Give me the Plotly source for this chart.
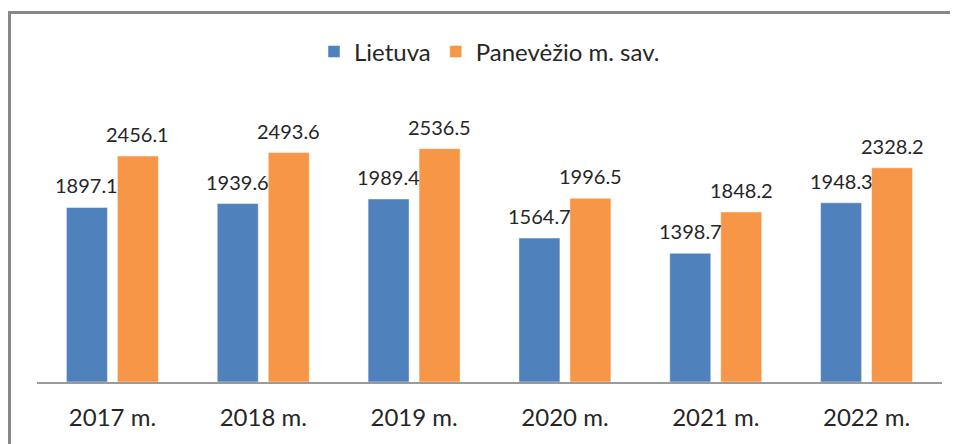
import plotly.graph_objects as go

categories = ["2017 m.", "2018 m.", "2019 m.", "2020 m.", "2021 m.", "2022 m."]
lietuva = [1897.1, 1939.6, 1989.4, 1564.7, 1398.7, 1948.3]
panevezys = [2456.1, 2493.6, 2536.5, 1996.5, 1848.2, 2328.2]
series_names = ["Lietuva", "Panevėžio m. sav."]

BLUE = "#4F81BD"
ORANGE = "#F79646"
TEXT = "#262626"
FONT = "Lato"
BORDER = "#878787"

fig = go.Figure()
fig.add_trace(go.Bar(x=categories, y=lietuva, name=series_names[0],
                     marker=dict(color=BLUE, line=dict(color="rgba(255,255,255,0.45)", width=1))))
fig.add_trace(go.Bar(x=categories, y=panevezys, name=series_names[1],
                     marker=dict(color=ORANGE, line=dict(color="rgba(255,255,255,0.45)", width=1))))

annotations = []
for vals, shift in ((lietuva, -25.5), (panevezys, 25.5)):
    for c, v in zip(categories, vals):
        annotations.append(dict(x=c, y=v, xref="x", yref="y", text=f"{v:.1f}",
                                showarrow=False, xshift=shift, yshift=22,
                                yanchor="middle", xanchor="center",
                                font=dict(family=FONT, size=20, color=TEXT)))

# The page body has an 8px margin, so margins are reduced by 8px to compensate.
fig.update_layout(
    width=958, height=444,
    margin=dict(l=29, r=24, t=98, b=70, pad=0),
    paper_bgcolor="white", plot_bgcolor="white",
    barmode="group", bargap=0.324, bargroupgap=0.196,
    font=dict(family=FONT, color=TEXT),
    showlegend=True,
    legend=dict(orientation="h", x=0.5, xanchor="center", y=1.196, yanchor="middle",
                font=dict(family=FONT, size=24, color=TEXT), traceorder="normal"),
    xaxis=dict(showline=True, linecolor="#9A9A9A", linewidth=1.5, ticks="",
               showgrid=False, tickfont=dict(family=FONT, size=24, color=TEXT),
               ticklabelstandoff=13),
    yaxis=dict(range=[0, 3000], visible=False, showgrid=False, zeroline=False),
    annotations=annotations,
    shapes=[
        dict(type="line", xref="paper", yref="paper",
             x0=-0.0319, x1=1.1, y0=1.3388, y1=1.3388,
             line=dict(color=BORDER, width=3)),
        dict(type="line", xref="paper", yref="paper",
             x0=-0.0304, x1=-0.0304, y0=-0.5, y1=1.3443,
             line=dict(color=BORDER, width=3)),
    ],
)

fig.write_html("out.html")
